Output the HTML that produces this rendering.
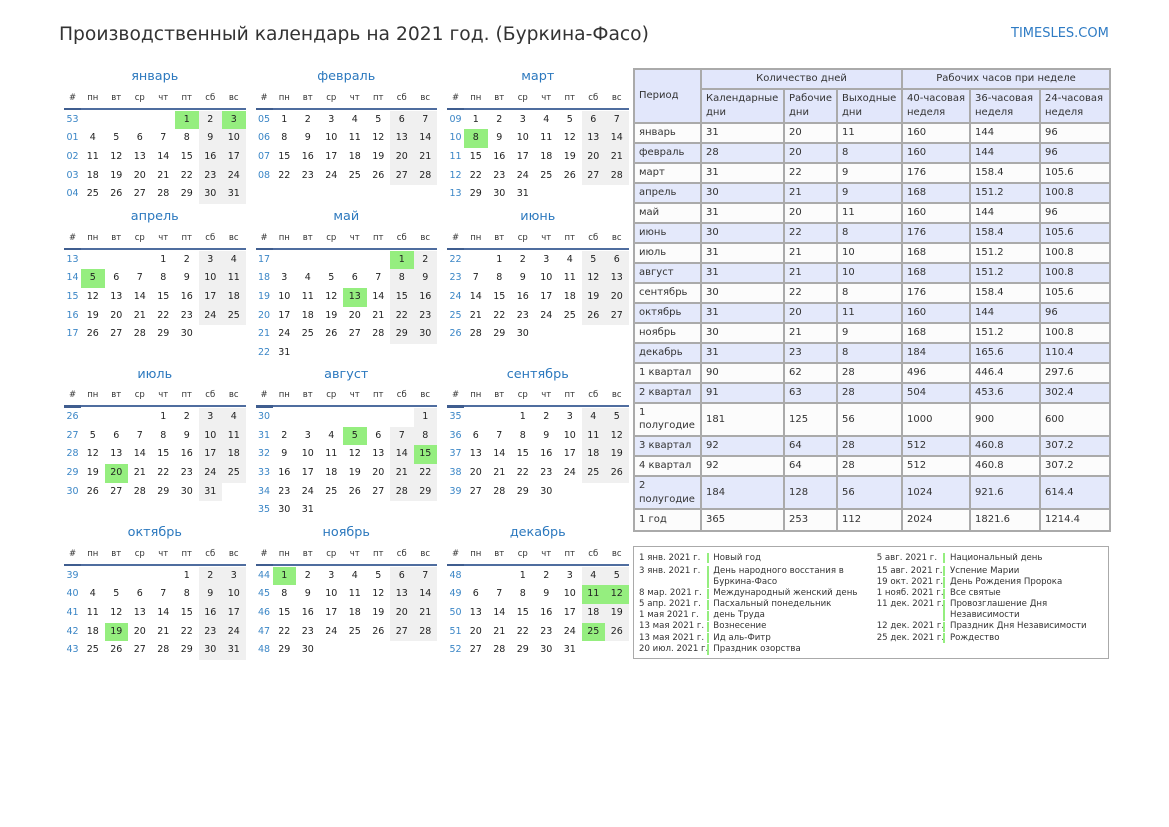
<!DOCTYPE html>
<html><head><meta charset="utf-8">
<style>
*{box-sizing:border-box;margin:0;padding:0}
body{width:1169px;height:827px;background:#fff;position:relative;overflow:hidden;font-family:"DejaVu Sans","Liberation Sans",sans-serif;color:#222}
.title{position:absolute;left:59px;top:23px;font-size:18.7px;line-height:24px;color:#333;white-space:nowrap}
.site{position:absolute;left:1011px;top:25.5px;font-size:13px;line-height:16px;color:#2e7bc4;white-space:nowrap}
.m{position:absolute;width:181.5px}
.mt{position:absolute;left:0;width:181.5px;top:-53px;height:20px;line-height:20px;text-align:center;font-size:12.8px;color:#2b78be}
.hd{position:absolute;left:0;top:-30.5px;height:16px;line-height:16px;display:flex;font-size:8.5px;color:#333}
.hd span{width:23.5px;text-align:center}
.hd span:first-child{width:17px}
.ln{position:absolute;left:0;top:-12.5px;width:181.5px;height:2px;background:#4f6d9f}
.ln:before{content:"";position:absolute;left:0;top:0;width:17px;height:2.5px;background:#3f5d8f}
.wk{position:absolute;left:0;top:-9.3px}
.r{display:flex;height:18.65px;line-height:18.65px;font-size:9.5px}
.r b{width:17px;text-align:center;font-weight:normal;color:#3b86c6}
.r i{width:23.5px;text-align:center;font-style:normal;color:#222}
.r i.s{background:#f0f0f0}
.r i.g{background:#95ee7f}
table.t{position:absolute;left:633px;top:68px;width:476px;border-collapse:collapse;table-layout:fixed;font-size:10px;color:#333}
table.t td{border:2px solid #aaaaaa;padding:0 4px;vertical-align:middle;line-height:13.3px;background:#fcfcfc;white-space:nowrap;overflow:hidden}
table.t tr.b td{background:#e4e9fb}
table.t tr.h td{background:#e2e7fb}
.lg{position:absolute;left:632.5px;top:545.7px;width:476.5px;height:113.5px;border:1.5px solid #aaaaaa}
.e{position:absolute;font-size:8.6px;color:#333;line-height:11.3px;white-space:nowrap}
.e .d{position:absolute;left:0;top:0}
.e .bar{position:absolute;top:0.5px;width:2px;background:#95ee7f}
.e .x{position:absolute;top:0}
</style></head><body>
<div class="title">Производственный календарь на 2021 год. (Буркина-Фасо)</div>
<div class="site">TIMESLES.COM</div>

<!-- Row 1 -->
<div class="m" style="left:64px;top:120px">
<div class="mt">январь</div>
<div class="hd"><span>#</span><span>пн</span><span>вт</span><span>ср</span><span>чт</span><span>пт</span><span>сб</span><span>вс</span></div>
<div class="ln"></div>
<div class="wk">
<div class="r"><b>53</b><i></i><i></i><i></i><i></i><i class="g">1</i><i class="s">2</i><i class="g">3</i></div>
<div class="r"><b>01</b><i>4</i><i>5</i><i>6</i><i>7</i><i>8</i><i class="s">9</i><i class="s">10</i></div>
<div class="r"><b>02</b><i>11</i><i>12</i><i>13</i><i>14</i><i>15</i><i class="s">16</i><i class="s">17</i></div>
<div class="r"><b>03</b><i>18</i><i>19</i><i>20</i><i>21</i><i>22</i><i class="s">23</i><i class="s">24</i></div>
<div class="r"><b>04</b><i>25</i><i>26</i><i>27</i><i>28</i><i>29</i><i class="s">30</i><i class="s">31</i></div>
</div></div>

<div class="m" style="left:255.5px;top:120px">
<div class="mt">февраль</div>
<div class="hd"><span>#</span><span>пн</span><span>вт</span><span>ср</span><span>чт</span><span>пт</span><span>сб</span><span>вс</span></div>
<div class="ln"></div>
<div class="wk">
<div class="r"><b>05</b><i>1</i><i>2</i><i>3</i><i>4</i><i>5</i><i class="s">6</i><i class="s">7</i></div>
<div class="r"><b>06</b><i>8</i><i>9</i><i>10</i><i>11</i><i>12</i><i class="s">13</i><i class="s">14</i></div>
<div class="r"><b>07</b><i>15</i><i>16</i><i>17</i><i>18</i><i>19</i><i class="s">20</i><i class="s">21</i></div>
<div class="r"><b>08</b><i>22</i><i>23</i><i>24</i><i>25</i><i>26</i><i class="s">27</i><i class="s">28</i></div>
</div></div>

<div class="m" style="left:447px;top:120px">
<div class="mt">март</div>
<div class="hd"><span>#</span><span>пн</span><span>вт</span><span>ср</span><span>чт</span><span>пт</span><span>сб</span><span>вс</span></div>
<div class="ln"></div>
<div class="wk">
<div class="r"><b>09</b><i>1</i><i>2</i><i>3</i><i>4</i><i>5</i><i class="s">6</i><i class="s">7</i></div>
<div class="r"><b>10</b><i class="g">8</i><i>9</i><i>10</i><i>11</i><i>12</i><i class="s">13</i><i class="s">14</i></div>
<div class="r"><b>11</b><i>15</i><i>16</i><i>17</i><i>18</i><i>19</i><i class="s">20</i><i class="s">21</i></div>
<div class="r"><b>12</b><i>22</i><i>23</i><i>24</i><i>25</i><i>26</i><i class="s">27</i><i class="s">28</i></div>
<div class="r"><b>13</b><i>29</i><i>30</i><i>31</i><i></i><i></i><i></i><i></i></div>
</div></div>

<!-- Row 2 -->
<div class="m" style="left:64px;top:260px">
<div class="mt">апрель</div>
<div class="hd"><span>#</span><span>пн</span><span>вт</span><span>ср</span><span>чт</span><span>пт</span><span>сб</span><span>вс</span></div>
<div class="ln"></div>
<div class="wk">
<div class="r"><b>13</b><i></i><i></i><i></i><i>1</i><i>2</i><i class="s">3</i><i class="s">4</i></div>
<div class="r"><b>14</b><i class="g">5</i><i>6</i><i>7</i><i>8</i><i>9</i><i class="s">10</i><i class="s">11</i></div>
<div class="r"><b>15</b><i>12</i><i>13</i><i>14</i><i>15</i><i>16</i><i class="s">17</i><i class="s">18</i></div>
<div class="r"><b>16</b><i>19</i><i>20</i><i>21</i><i>22</i><i>23</i><i class="s">24</i><i class="s">25</i></div>
<div class="r"><b>17</b><i>26</i><i>27</i><i>28</i><i>29</i><i>30</i><i></i><i></i></div>
</div></div>

<div class="m" style="left:255.5px;top:260px">
<div class="mt">май</div>
<div class="hd"><span>#</span><span>пн</span><span>вт</span><span>ср</span><span>чт</span><span>пт</span><span>сб</span><span>вс</span></div>
<div class="ln"></div>
<div class="wk">
<div class="r"><b>17</b><i></i><i></i><i></i><i></i><i></i><i class="g">1</i><i class="s">2</i></div>
<div class="r"><b>18</b><i>3</i><i>4</i><i>5</i><i>6</i><i>7</i><i class="s">8</i><i class="s">9</i></div>
<div class="r"><b>19</b><i>10</i><i>11</i><i>12</i><i class="g">13</i><i>14</i><i class="s">15</i><i class="s">16</i></div>
<div class="r"><b>20</b><i>17</i><i>18</i><i>19</i><i>20</i><i>21</i><i class="s">22</i><i class="s">23</i></div>
<div class="r"><b>21</b><i>24</i><i>25</i><i>26</i><i>27</i><i>28</i><i class="s">29</i><i class="s">30</i></div>
<div class="r"><b>22</b><i>31</i><i></i><i></i><i></i><i></i><i></i><i></i></div>
</div></div>

<div class="m" style="left:447px;top:260px">
<div class="mt">июнь</div>
<div class="hd"><span>#</span><span>пн</span><span>вт</span><span>ср</span><span>чт</span><span>пт</span><span>сб</span><span>вс</span></div>
<div class="ln"></div>
<div class="wk">
<div class="r"><b>22</b><i></i><i>1</i><i>2</i><i>3</i><i>4</i><i class="s">5</i><i class="s">6</i></div>
<div class="r"><b>23</b><i>7</i><i>8</i><i>9</i><i>10</i><i>11</i><i class="s">12</i><i class="s">13</i></div>
<div class="r"><b>24</b><i>14</i><i>15</i><i>16</i><i>17</i><i>18</i><i class="s">19</i><i class="s">20</i></div>
<div class="r"><b>25</b><i>21</i><i>22</i><i>23</i><i>24</i><i>25</i><i class="s">26</i><i class="s">27</i></div>
<div class="r"><b>26</b><i>28</i><i>29</i><i>30</i><i></i><i></i><i></i><i></i></div>
</div></div>

<!-- Row 3 -->
<div class="m" style="left:64px;top:417.5px">
<div class="mt">июль</div>
<div class="hd"><span>#</span><span>пн</span><span>вт</span><span>ср</span><span>чт</span><span>пт</span><span>сб</span><span>вс</span></div>
<div class="ln"></div>
<div class="wk">
<div class="r"><b>26</b><i></i><i></i><i></i><i>1</i><i>2</i><i class="s">3</i><i class="s">4</i></div>
<div class="r"><b>27</b><i>5</i><i>6</i><i>7</i><i>8</i><i>9</i><i class="s">10</i><i class="s">11</i></div>
<div class="r"><b>28</b><i>12</i><i>13</i><i>14</i><i>15</i><i>16</i><i class="s">17</i><i class="s">18</i></div>
<div class="r"><b>29</b><i>19</i><i class="g">20</i><i>21</i><i>22</i><i>23</i><i class="s">24</i><i class="s">25</i></div>
<div class="r"><b>30</b><i>26</i><i>27</i><i>28</i><i>29</i><i>30</i><i class="s">31</i><i></i></div>
</div></div>

<div class="m" style="left:255.5px;top:417.5px">
<div class="mt">август</div>
<div class="hd"><span>#</span><span>пн</span><span>вт</span><span>ср</span><span>чт</span><span>пт</span><span>сб</span><span>вс</span></div>
<div class="ln"></div>
<div class="wk">
<div class="r"><b>30</b><i></i><i></i><i></i><i></i><i></i><i></i><i class="s">1</i></div>
<div class="r"><b>31</b><i>2</i><i>3</i><i>4</i><i class="g">5</i><i>6</i><i class="s">7</i><i class="s">8</i></div>
<div class="r"><b>32</b><i>9</i><i>10</i><i>11</i><i>12</i><i>13</i><i class="s">14</i><i class="g">15</i></div>
<div class="r"><b>33</b><i>16</i><i>17</i><i>18</i><i>19</i><i>20</i><i class="s">21</i><i class="s">22</i></div>
<div class="r"><b>34</b><i>23</i><i>24</i><i>25</i><i>26</i><i>27</i><i class="s">28</i><i class="s">29</i></div>
<div class="r"><b>35</b><i>30</i><i>31</i><i></i><i></i><i></i><i></i><i></i></div>
</div></div>

<div class="m" style="left:447px;top:417.5px">
<div class="mt">сентябрь</div>
<div class="hd"><span>#</span><span>пн</span><span>вт</span><span>ср</span><span>чт</span><span>пт</span><span>сб</span><span>вс</span></div>
<div class="ln"></div>
<div class="wk">
<div class="r"><b>35</b><i></i><i></i><i>1</i><i>2</i><i>3</i><i class="s">4</i><i class="s">5</i></div>
<div class="r"><b>36</b><i>6</i><i>7</i><i>8</i><i>9</i><i>10</i><i class="s">11</i><i class="s">12</i></div>
<div class="r"><b>37</b><i>13</i><i>14</i><i>15</i><i>16</i><i>17</i><i class="s">18</i><i class="s">19</i></div>
<div class="r"><b>38</b><i>20</i><i>21</i><i>22</i><i>23</i><i>24</i><i class="s">25</i><i class="s">26</i></div>
<div class="r"><b>39</b><i>27</i><i>28</i><i>29</i><i>30</i><i></i><i></i><i></i></div>
</div></div>

<!-- Row 4 -->
<div class="m" style="left:64px;top:576px">
<div class="mt">октябрь</div>
<div class="hd"><span>#</span><span>пн</span><span>вт</span><span>ср</span><span>чт</span><span>пт</span><span>сб</span><span>вс</span></div>
<div class="ln"></div>
<div class="wk">
<div class="r"><b>39</b><i></i><i></i><i></i><i></i><i>1</i><i class="s">2</i><i class="s">3</i></div>
<div class="r"><b>40</b><i>4</i><i>5</i><i>6</i><i>7</i><i>8</i><i class="s">9</i><i class="s">10</i></div>
<div class="r"><b>41</b><i>11</i><i>12</i><i>13</i><i>14</i><i>15</i><i class="s">16</i><i class="s">17</i></div>
<div class="r"><b>42</b><i>18</i><i class="g">19</i><i>20</i><i>21</i><i>22</i><i class="s">23</i><i class="s">24</i></div>
<div class="r"><b>43</b><i>25</i><i>26</i><i>27</i><i>28</i><i>29</i><i class="s">30</i><i class="s">31</i></div>
</div></div>

<div class="m" style="left:255.5px;top:576px">
<div class="mt">ноябрь</div>
<div class="hd"><span>#</span><span>пн</span><span>вт</span><span>ср</span><span>чт</span><span>пт</span><span>сб</span><span>вс</span></div>
<div class="ln"></div>
<div class="wk">
<div class="r"><b>44</b><i class="g">1</i><i>2</i><i>3</i><i>4</i><i>5</i><i class="s">6</i><i class="s">7</i></div>
<div class="r"><b>45</b><i>8</i><i>9</i><i>10</i><i>11</i><i>12</i><i class="s">13</i><i class="s">14</i></div>
<div class="r"><b>46</b><i>15</i><i>16</i><i>17</i><i>18</i><i>19</i><i class="s">20</i><i class="s">21</i></div>
<div class="r"><b>47</b><i>22</i><i>23</i><i>24</i><i>25</i><i>26</i><i class="s">27</i><i class="s">28</i></div>
<div class="r"><b>48</b><i>29</i><i>30</i><i></i><i></i><i></i><i></i><i></i></div>
</div></div>

<div class="m" style="left:447px;top:576px">
<div class="mt">декабрь</div>
<div class="hd"><span>#</span><span>пн</span><span>вт</span><span>ср</span><span>чт</span><span>пт</span><span>сб</span><span>вс</span></div>
<div class="ln"></div>
<div class="wk">
<div class="r"><b>48</b><i></i><i></i><i>1</i><i>2</i><i>3</i><i class="s">4</i><i class="s">5</i></div>
<div class="r"><b>49</b><i>6</i><i>7</i><i>8</i><i>9</i><i>10</i><i class="g">11</i><i class="g">12</i></div>
<div class="r"><b>50</b><i>13</i><i>14</i><i>15</i><i>16</i><i>17</i><i class="s">18</i><i class="s">19</i></div>
<div class="r"><b>51</b><i>20</i><i>21</i><i>22</i><i>23</i><i>24</i><i class="g">25</i><i class="s">26</i></div>
<div class="r"><b>52</b><i>27</i><i>28</i><i>29</i><i>30</i><i>31</i><i></i><i></i></div>
</div></div>

<!-- Table -->
<table class="t">
<colgroup><col style="width:67px"><col style="width:83px"><col style="width:53px"><col style="width:65px"><col style="width:68px"><col style="width:70px"><col style="width:70px"></colgroup>
<tr class="h" style="height:19.5px"><td rowspan="2">Период</td><td colspan="3" style="text-align:center">Количество дней</td><td colspan="3" style="text-align:center">Рабочих часов при неделе</td></tr>
<tr class="h" style="height:34px"><td>Календарные<br>дни</td><td>Рабочие<br>дни</td><td>Выходные<br>дни</td><td>40-часовая<br>неделя</td><td>36-часовая<br>неделя</td><td>24-часовая<br>неделя</td></tr>
<tr style="height:20px"><td>январь</td><td>31</td><td>20</td><td>11</td><td>160</td><td>144</td><td>96</td></tr>
<tr class="b" style="height:20px"><td>февраль</td><td>28</td><td>20</td><td>8</td><td>160</td><td>144</td><td>96</td></tr>
<tr style="height:20px"><td>март</td><td>31</td><td>22</td><td>9</td><td>176</td><td>158.4</td><td>105.6</td></tr>
<tr class="b" style="height:20px"><td>апрель</td><td>30</td><td>21</td><td>9</td><td>168</td><td>151.2</td><td>100.8</td></tr>
<tr style="height:20px"><td>май</td><td>31</td><td>20</td><td>11</td><td>160</td><td>144</td><td>96</td></tr>
<tr class="b" style="height:20px"><td>июнь</td><td>30</td><td>22</td><td>8</td><td>176</td><td>158.4</td><td>105.6</td></tr>
<tr style="height:20px"><td>июль</td><td>31</td><td>21</td><td>10</td><td>168</td><td>151.2</td><td>100.8</td></tr>
<tr class="b" style="height:20px"><td>август</td><td>31</td><td>21</td><td>10</td><td>168</td><td>151.2</td><td>100.8</td></tr>
<tr style="height:20px"><td>сентябрь</td><td>30</td><td>22</td><td>8</td><td>176</td><td>158.4</td><td>105.6</td></tr>
<tr class="b" style="height:20px"><td>октябрь</td><td>31</td><td>20</td><td>11</td><td>160</td><td>144</td><td>96</td></tr>
<tr style="height:20px"><td>ноябрь</td><td>30</td><td>21</td><td>9</td><td>168</td><td>151.2</td><td>100.8</td></tr>
<tr class="b" style="height:20px"><td>декабрь</td><td>31</td><td>23</td><td>8</td><td>184</td><td>165.6</td><td>110.4</td></tr>
<tr style="height:20px"><td>1 квартал</td><td>90</td><td>62</td><td>28</td><td>496</td><td>446.4</td><td>297.6</td></tr>
<tr class="b" style="height:20px"><td>2 квартал</td><td>91</td><td>63</td><td>28</td><td>504</td><td>453.6</td><td>302.4</td></tr>
<tr style="height:33.5px"><td>1<br>полугодие</td><td>181</td><td>125</td><td>56</td><td>1000</td><td>900</td><td>600</td></tr>
<tr class="b" style="height:20px"><td>3 квартал</td><td>92</td><td>64</td><td>28</td><td>512</td><td>460.8</td><td>307.2</td></tr>
<tr style="height:20px"><td>4 квартал</td><td>92</td><td>64</td><td>28</td><td>512</td><td>460.8</td><td>307.2</td></tr>
<tr class="b" style="height:33px"><td>2<br>полугодие</td><td>184</td><td>128</td><td>56</td><td>1024</td><td>921.6</td><td>614.4</td></tr>
<tr style="height:22px"><td>1 год</td><td>365</td><td>253</td><td>112</td><td>2024</td><td>1821.6</td><td>1214.4</td></tr>
</table>

<!-- Legend -->
<div class="lg"></div>
<div class="e" style="left:639px;top:552.5px;height:11.3px"><span class="d">1 янв. 2021 г.</span><span class="bar" style="left:68.3px;height:10.3px"></span><span class="x" style="left:74.3px">Новый год</span></div>
<div class="e" style="left:639px;top:565.5px;height:22.6px"><span class="d">3 янв. 2021 г.</span><span class="bar" style="left:68.3px;height:21.6px"></span><span class="x" style="left:74.3px">День народного восстания в<br>Буркина-Фасо</span></div>
<div class="e" style="left:639px;top:588px;height:11.3px"><span class="d">8 мар. 2021 г.</span><span class="bar" style="left:68.3px;height:10.3px"></span><span class="x" style="left:74.3px">Международный женский день</span></div>
<div class="e" style="left:639px;top:599px;height:11.3px"><span class="d">5 апр. 2021 г.</span><span class="bar" style="left:68.3px;height:10.3px"></span><span class="x" style="left:74.3px">Пасхальный понедельник</span></div>
<div class="e" style="left:639px;top:610px;height:11.3px"><span class="d">1 мая 2021 г.</span><span class="bar" style="left:68.3px;height:10.3px"></span><span class="x" style="left:74.3px">день Труда</span></div>
<div class="e" style="left:639px;top:621.3px;height:11.3px"><span class="d">13 мая 2021 г.</span><span class="bar" style="left:68.3px;height:10.3px"></span><span class="x" style="left:74.3px">Вознесение</span></div>
<div class="e" style="left:639px;top:632.5px;height:11.3px"><span class="d">13 мая 2021 г.</span><span class="bar" style="left:68.3px;height:10.3px"></span><span class="x" style="left:74.3px">Ид аль-Фитр</span></div>
<div class="e" style="left:639px;top:643.8px;height:11.3px"><span class="d">20 июл. 2021 г.</span><span class="bar" style="left:68.3px;height:10.3px"></span><span class="x" style="left:74.3px">Праздник озорства</span></div>

<div class="e" style="left:876.7px;top:552.5px;height:11.3px"><span class="d">5 авг. 2021 г.</span><span class="bar" style="left:66.6px;height:10.3px"></span><span class="x" style="left:73.3px">Национальный день</span></div>
<div class="e" style="left:876.7px;top:565.5px;height:11.3px"><span class="d">15 авг. 2021 г.</span><span class="bar" style="left:66.6px;height:10.3px"></span><span class="x" style="left:73.3px">Успение Марии</span></div>
<div class="e" style="left:876.7px;top:576.8px;height:11.3px"><span class="d">19 окт. 2021 г.</span><span class="bar" style="left:66.6px;height:10.3px"></span><span class="x" style="left:73.3px">День Рождения Пророка</span></div>
<div class="e" style="left:876.7px;top:588px;height:11.3px"><span class="d">1 нояб. 2021 г.</span><span class="bar" style="left:66.6px;height:10.3px"></span><span class="x" style="left:73.3px">Все святые</span></div>
<div class="e" style="left:876.7px;top:599px;height:22.6px"><span class="d">11 дек. 2021 г.</span><span class="bar" style="left:66.6px;height:21.6px"></span><span class="x" style="left:73.3px">Провозглашение Дня<br>Независимости</span></div>
<div class="e" style="left:876.7px;top:621.3px;height:11.3px"><span class="d">12 дек. 2021 г.</span><span class="bar" style="left:66.6px;height:10.3px"></span><span class="x" style="left:73.3px">Праздник Дня Независимости</span></div>
<div class="e" style="left:876.7px;top:632.5px;height:11.3px"><span class="d">25 дек. 2021 г.</span><span class="bar" style="left:66.6px;height:10.3px"></span><span class="x" style="left:73.3px">Рождество</span></div>
</body></html>
